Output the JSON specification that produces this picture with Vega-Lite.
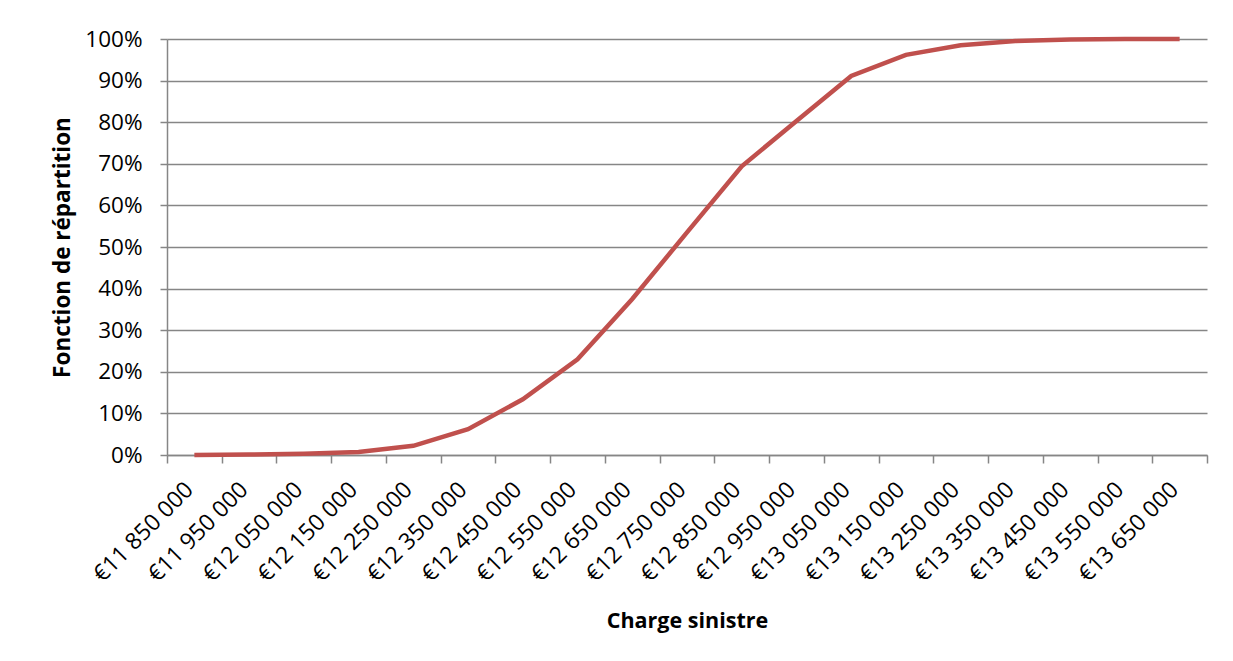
{
  "$schema": "https://vega.github.io/schema/vega-lite/v6.json",
  "width": 1040,
  "height": 416,
  "autosize": {"type": "none"},
  "padding": {"left": 167, "top": 39, "right": 26, "bottom": 206},
  "background": "white",
  "config": {
    "view": {"stroke": null},
    "font": "Open Sans",
    "axis": {"labelFont": "Open Sans", "titleFont": "Open Sans", "labelColor": "black", "titleColor": "black"}
  },
  "data": {
    "values": [
      {"charge": "€11 850 000", "p": 0.000},
      {"charge": "€11 950 000", "p": 0.001},
      {"charge": "€12 050 000", "p": 0.003},
      {"charge": "€12 150 000", "p": 0.007},
      {"charge": "€12 250 000", "p": 0.022},
      {"charge": "€12 350 000", "p": 0.062},
      {"charge": "€12 450 000", "p": 0.134},
      {"charge": "€12 550 000", "p": 0.230},
      {"charge": "€12 650 000", "p": 0.375},
      {"charge": "€12 750 000", "p": 0.535},
      {"charge": "€12 850 000", "p": 0.694},
      {"charge": "€12 950 000", "p": 0.803},
      {"charge": "€13 050 000", "p": 0.911},
      {"charge": "€13 150 000", "p": 0.962},
      {"charge": "€13 250 000", "p": 0.985},
      {"charge": "€13 350 000", "p": 0.995},
      {"charge": "€13 450 000", "p": 0.999},
      {"charge": "€13 550 000", "p": 1.000},
      {"charge": "€13 650 000", "p": 1.000}
    ]
  },
  "mark": {"type": "line", "color": "#C0504D", "strokeWidth": 4.5},
  "encoding": {
    "x": {
      "field": "charge",
      "type": "nominal",
      "sort": null,
      "scale": {"type": "band", "paddingInner": 0, "paddingOuter": 0},
      "axis": {
        "title": "Charge sinistre",
        "titleFontSize": 21.5,
        "titleFontWeight": "bold",
        "titlePadding": 24,
        "labelAngle": -45,
        "labelFontSize": 23,
        "labelPadding": 15,
        "labelOffset": -13,
        "labelOverlap": false,
        "tickBand": "extent",
        "ticks": true,
        "tickSize": 8,
        "tickColor": "#868686",
        "domainColor": "#868686",
        "domainWidth": 1.5,
        "tickWidth": 1.5,
        "grid": false
      }
    },
    "y": {
      "field": "p",
      "type": "quantitative",
      "scale": {"domain": [0, 1]},
      "axis": {
        "title": "Fonction de répartition",
        "titleFontSize": 22.5,
        "titleFontWeight": "bold",
        "titlePadding": 10,
        "format": ".0%",
        "values": [0, 0.1, 0.2, 0.3, 0.4, 0.5, 0.6, 0.7, 0.8, 0.9, 1],
        "labelOverlap": false,
        "labelFontSize": 22.5,
        "labelPadding": 18,
        "tickSize": 7,
        "tickColor": "#868686",
        "domainColor": "#868686",
        "domainWidth": 1.5,
        "tickWidth": 1.5,
        "grid": true,
        "gridColor": "#868686",
        "gridWidth": 1.5
      }
    }
  }
}
